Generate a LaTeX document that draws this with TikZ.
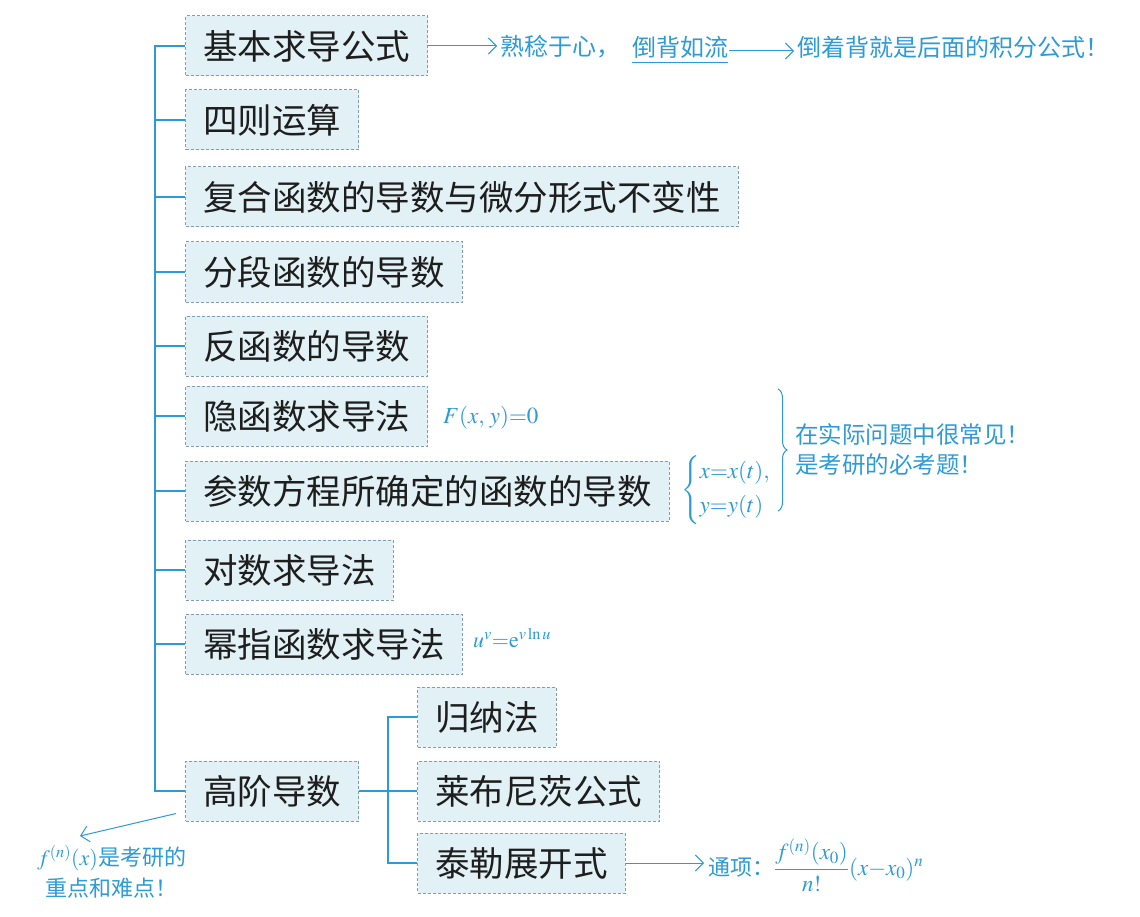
\documentclass[tikz,border=0pt]{standalone}
\usepackage{amsmath}
\usepackage{mathptmx}
\usepackage{fontspec}
\newfontfamily\cjk{Noto Sans CJK SC}
\usetikzlibrary{arrows.meta,decorations.pathreplacing}
\definecolor{lineblue}{HTML}{2A9AD8}
\definecolor{boxfill}{HTML}{E2F1F6}
\definecolor{boxline}{HTML}{7F9FB0}
\definecolor{noteblue}{HTML}{2D9BD8}
\definecolor{txt}{HTML}{1E1E1E}
\begin{document}
\begin{tikzpicture}[x=1pt,y=-1pt,
  topic/.style={draw=boxline, dash pattern=on 3pt off 2pt, fill=boxfill, anchor=west,
    minimum height=60pt, inner xsep=17.5pt, font=\cjk\fontsize{34.5}{40}\selectfont, text=txt, line width=1pt},
  branch/.style={draw=lineblue, line width=2.2pt},
  note/.style={text=noteblue, font=\cjk\fontsize{24}{30}\selectfont, inner sep=0pt, anchor=west},
  notemath/.style={text=noteblue, font=\fontsize{23}{27}\selectfont, inner sep=0pt, anchor=west},
  notearrow/.style={draw=lineblue, line width=1pt, -{Straight Barb[length=8pt,width=16pt]}}
]
\useasboundingbox (0,0) rectangle (1140,917);
\fill[white] (0,0) rectangle (1140,917);

% main boxes
\node[topic] (b1) at (185,46) {基本求导公式};
\node[topic] (b2) at (185,120) {四则运算};
\node[topic] (b3) at (185,197) {复合函数的导数与微分形式不变性};
\node[topic] (b4) at (185,272) {分段函数的导数};
\node[topic] (b5) at (185,346) {反函数的导数};
\node[topic] (b6) at (185,416) {隐函数求导法};
\node[topic] (b7) at (185,491) {参数方程所确定的函数的导数};
\node[topic] (b8) at (185,570) {对数求导法};
\node[topic] (b9) at (185,644) {幂指函数求导法};
\node[topic] (b10) at (185,791) {高阶导数};

% sub boxes
\node[topic] (c1) at (417,717) {归纳法};
\node[topic] (c2) at (417,791) {莱布尼茨公式};
\node[topic] (c3) at (417,863) {泰勒展开式};

% trunk
\coordinate (t) at (155,0);
\draw[branch] (b1.west) -- (b1.west -| t) |- (b10.west);
\foreach \b in {b2,b3,b4,b5,b6,b7,b8,b9}{
  \draw[branch] (\b.west) -- (\b.west -| t);
}
\coordinate (s) at (388,0);
\draw[branch] (b10.east) -- (c2.west);
\draw[branch] (c1.west) -- (c1.west -| s) |- (c3.west);

% top annotation
\node[note] (n1) at (500,47) {熟稔于心，};
\node[note] (n2) at (632,47) {倒背如流};
\node[note] (n3) at (797,47) {倒着背就是后面的积分公式！};
\draw[notearrow] (b1.east) -- ([xshift=-3pt]b1.east -| n1.west);
\draw[lineblue, line width=1pt] ([yshift=-4pt]n2.south west) -- ([yshift=-4pt]n2.south east);
\draw[notearrow] ([xshift=1pt,yshift=-4pt]n2.east) -- ([xshift=-3pt,yshift=-4pt]n3.west);

% formulas
\node[notemath] (fxy) at (443,418) {$F(x,\,y){=}0$};
\node[notemath, font=\fontsize{22}{26}\selectfont] (uv) at (473,638) {$u^v{=}\mathrm{e}^{v\ln u}$};
\node[notemath] (par) at (681,490) {$\left\{\begin{array}{@{}l@{}} x{=}x(t),\\[7pt] y{=}y(t)\end{array}\right.$};

% right brace and note
\draw[lineblue, line width=1pt, decorate, decoration={brace, amplitude=9pt}] (778,389) -- (778,511);
\node[note, font=\cjk\fontsize{23.5}{30}\selectfont, align=left] (nr) at (795,450) {在实际问题中很常见！\\是考研的必考题！};

% Taylor note
\node[notemath] (tay) at (708,865) {{\cjk\fontsize{22}{26}\selectfont 通项：}$\dfrac{f^{(n)}(x_0)}{n!}(x{-}x_0)^n$};
\draw[notearrow] (c3.east) -- ([xshift=-4pt]c3.east -| tay.west);

% bottom-left note
\node[note, font=\cjk\fontsize{22}{28}\selectfont] (nl1) at (37,858) {$f^{(n)}(x)$是考研的};
\node[note, font=\cjk\fontsize{22}{28}\selectfont] (nl2) at (45,888) {重点和难点！};
\coordinate (hoEnd) at (80,836);
\draw[notearrow] ([shift={(-9,-8)}]b10.south west) -- (hoEnd);
\end{tikzpicture}
\end{document}
